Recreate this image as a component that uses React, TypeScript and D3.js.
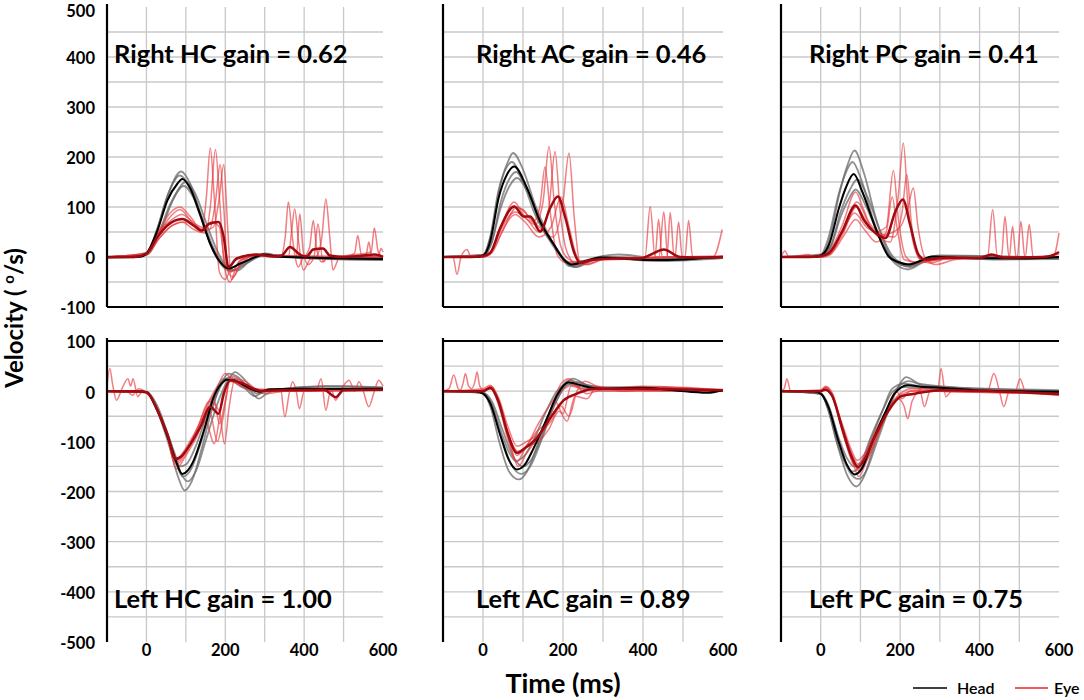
import React from "react";
import * as d3 from "d3";

type Pt = [number, number];

// ---- Right HC ----
const rhcHeadMean: Pt[] = [[-100,0],[-40,0],[-15,1],[0,7],[28,53],[53,113],[78,146],[91,156],[112,136],[137,83],[162,26],[187,-10],[208,-23],[238,-13],[280,1],[297,5],[330,1],[400,-1],[500,-3],[600,-4]];
const rhcHeads: Pt[][] = [
  [[-100,-2],[-20,0],[0,6],[30,62],[55,125],[88,171],[112,145],[140,80],[165,20],[195,-20],[215,-28],[245,-15],[290,3],[320,4],[400,-2],[600,-6]],
  [[-100,0],[-20,0],[0,5],[30,45],[60,105],[95,142],[120,118],[145,70],[170,18],[200,-18],[222,-26],[255,-12],[300,6],[340,2],[450,-3],[600,-3]],
  [[-100,-1],[0,8],[28,58],[52,120],[85,163],[108,142],[132,92],[158,35],[185,-8],[205,-22],[235,-16],[275,0],[300,7],[340,2],[500,-4],[600,-5]],
  [[-100,0],[0,4],[35,50],[65,110],[100,150],[125,125],[150,72],[178,15],[205,-20],[230,-27],[260,-10],[300,4],[350,0],[600,-2]],
];
const rhcEyeMean: Pt[] = [[-100,0],[-30,0],[0,7],[28,40],[53,63],[91,76],[120,63],[141,53],[158,66],[183,70],[196,40],[208,-20],[229,-3],[280,5],[322,1],[343,3],[364,20],[389,5],[406,1],[423,15],[448,17],[465,3],[500,0],[540,2],[580,5],[600,0]];
const rhcEyes: Pt[][] = [
  [[-100,0],[0,6],[30,45],[60,80],[85,95],[115,70],[140,50],[152,120],[162,218],[172,120],[185,-30],[200,-45],[220,-10],[260,3],[340,0],[352,40],[360,110],[370,40],[385,-20],[400,0],[500,0],[528,8],[536,43],[545,5],[600,-5]],
  [[-100,0],[0,5],[30,35],[60,60],[90,70],[120,55],[150,48],[162,100],[175,215],[186,110],[198,-20],[212,-50],[230,-15],[270,5],[360,0],[368,50],[376,96],[386,30],[398,-26],[415,-5],[430,0],[445,40],[455,116],[465,40],[473,-26],[490,0],[570,10],[578,58],[588,10],[600,0]],
  [[-100,0],[0,8],[30,50],[60,72],[90,85],[125,65],[160,55],[175,110],[187,185],[196,100],[207,-30],[220,-40],[245,-5],[300,5],[380,0],[389,86],[398,10],[410,-15],[425,0],[435,66],[448,-10],[460,0],[556,0],[564,30],[572,0],[600,2]],
  [[-100,0],[0,5],[35,40],[70,65],[100,70],[140,52],[170,60],[185,120],[196,185],[206,60],[215,-45],[235,-20],[270,4],[400,2],[414,20],[423,73],[432,15],[445,-10],[460,0],[588,2],[595,17],[600,10]],
  [[-100,0],[0,7],[30,50],[60,88],[85,100],[110,82],[140,55],[165,70],[185,60],[200,-15],[215,-30],[240,-5],[300,3],[600,0]],
];

// ---- Right AC ----
const racHeadMean: Pt[] = [[-100,0],[-20,0],[0,3],[18,31],[39,118],[60,165],[78,181],[110,138],[143,71],[177,25],[202,-5],[222,-15],[250,-10],[293,-1],[350,-3],[420,-6],[500,-5],[550,-2],[600,0]];
const racHeads: Pt[][] = [
  [[-100,0],[0,4],[20,45],[42,140],[62,190],[75,208],[100,175],[130,105],[160,50],[190,8],[212,-15],[232,-20],[270,-8],[300,0],[400,-5],[600,-2]],
  [[-100,0],[0,2],[20,25],[45,100],[65,140],[85,158],[115,125],[145,68],[175,28],[200,-2],[220,-12],[250,-8],[300,2],[340,5],[450,-4],[600,0]],
  [[-100,0],[0,4],[18,40],[38,130],[58,178],[72,190],[100,150],[130,85],[165,35],[195,0],[215,-18],[240,-15],[290,-2],[450,-8],[600,-2]],
  [[-100,0],[0,2],[22,30],[45,112],[65,155],[82,170],[112,132],[145,62],[180,22],[208,-10],[230,-20],[260,-10],[310,0],[480,-5],[600,1]],
];
const racEyeMean: Pt[] = [[-100,0],[-30,0],[0,2],[18,8],[43,58],[78,101],[102,81],[118,81],[143,51],[168,98],[187,121],[206,78],[227,11],[243,-12],[270,-6],[330,-3],[393,-3],[420,5],[452,15],[493,0],[550,-1],[600,0]];
const racEyes: Pt[][] = [
  [[-100,0],[-75,0],[-65,-35],[-55,0],[-40,15],[-30,0],[0,0],[20,10],[45,60],[78,110],[100,85],[130,65],[150,110],[165,221],[178,110],[195,20],[215,-5],[240,-12],[300,-3],[405,0],[418,101],[430,0],[600,0]],
  [[-100,0],[0,2],[20,12],[45,55],[80,90],[110,75],[140,50],[165,100],[180,211],[193,90],[210,10],[235,-15],[270,-5],[430,0],[439,75],[448,0],[460,0],[468,89],[478,0],[600,0]],
  [[-100,0],[0,0],[22,8],[48,50],[85,100],[110,85],[140,60],[175,40],[200,110],[215,208],[228,80],[242,-10],[260,-15],[300,-5],[440,0],[452,90],[462,0],[505,0],[514,73],[524,0],[575,0],[598,55]],
  [[-100,0],[0,3],[20,10],[45,62],[75,100],[100,95],[125,70],[142,100],[155,180],[168,90],[185,5],[205,-10],[240,-8],[480,0],[489,70],[498,0],[600,0]],
  [[-100,0],[0,0],[25,15],[50,55],[80,85],[105,70],[140,40],[170,60],[195,120],[215,60],[235,0],[255,-15],[300,-5],[600,2]],
];

// ---- Right PC ----
const rpcHeadMean: Pt[] = [[-100,0],[-20,0],[0,3],[21,25],[46,98],[63,138],[83,166],[105,130],[138,58],[171,1],[195,-10],[221,-15],[250,-8],[279,1],[350,-2],[500,-3],[600,0]];
const rpcHeads: Pt[][] = [
  [[-100,0],[0,3],[22,35],[48,130],[68,185],[85,213],[108,170],[140,75],[170,10],[200,-15],[225,-20],[260,-8],[290,2],[400,-3],[600,-2]],
  [[-100,0],[0,2],[25,20],[50,80],[70,115],[88,135],[112,105],[142,50],[172,5],[200,-15],[225,-18],[260,-5],[300,3],[600,-3]],
  [[-100,0],[0,5],[20,40],[45,125],[65,172],[80,190],[102,155],[132,75],[165,10],[195,-18],[220,-25],[255,-12],[300,0],[450,-5],[600,-4]],
  [[-100,0],[0,2],[25,22],[50,90],[72,132],[92,155],[118,120],[148,55],[178,5],[205,-12],[235,-15],[270,-3],[320,2],[600,-1]],
];
const rpcEyeMean: Pt[] = [[-100,0],[-30,0],[0,2],[21,8],[54,51],[88,103],[108,75],[138,48],[163,38],[188,91],[207,115],[225,65],[246,5],[263,-5],[320,-1],[400,-2],[430,5],[460,-1],[560,0],[596,8],[600,10]];
const rpcEyes: Pt[][] = [
  [[-100,0],[-90,12],[-80,0],[-30,5],[-20,0],[0,0],[25,15],[55,65],[88,130],[108,95],[135,50],[165,60],[183,173],[195,80],[215,0],[240,-12],[300,-3],[420,0],[433,95],[445,0],[600,0]],
  [[-100,0],[0,0],[25,8],[55,45],[90,100],[115,70],[145,40],[175,30],[195,120],[208,228],[220,100],[240,10],[260,-10],[300,-5],[455,0],[464,81],[474,0],[600,0]],
  [[-100,0],[0,2],[25,12],[55,50],[85,88],[115,60],[150,45],[185,40],[205,90],[217,165],[228,70],[250,-5],[275,-12],[320,-3],[475,0],[483,61],[492,0],[585,0],[600,48]],
  [[-100,0],[0,0],[25,5],[55,55],[92,110],[120,70],[160,45],[200,60],[220,100],[233,138],[245,60],[265,-5],[290,-15],[340,-5],[495,0],[504,71],[514,0],[600,0]],
  [[-100,0],[0,0],[30,10],[60,45],[88,75],[110,55],[140,30],[165,50],[180,120],[192,60],[210,-5],[240,-10],[300,-5],[515,0],[525,65],[535,0],[600,5]],
];

// ---- Left HC ----
const lhcHeadMean: Pt[] = [[-100,0],[-20,0],[0,-2],[28,-38],[54,-91],[75,-140],[91,-165],[105,-158],[120,-138],[146,-78],[171,-11],[190,15],[204,23],[221,22],[254,9],[288,-1],[313,4],[388,5],[500,5],[600,5]];
const lhcHeads: Pt[][] = [
  [[-100,0],[0,-2],[30,-45],[58,-110],[80,-170],[97,-198],[115,-180],[140,-115],[165,-40],[190,15],[208,35],[228,30],[255,10],[285,-15],[305,-5],[350,5],[450,10],[600,8]],
  [[-100,0],[0,-1],[28,-30],[52,-80],[72,-125],[85,-150],[102,-145],[125,-110],[150,-55],[175,0],[198,25],[218,20],[250,5],[290,0],[400,3],[600,5]],
  [[-100,0],[0,-3],[30,-40],[60,-100],[85,-160],[105,-180],[125,-160],[150,-100],[180,-25],[205,20],[225,38],[250,22],[280,-5],[310,0],[400,8],[500,10],[600,6]],
  [[-100,0],[0,-2],[28,-40],[55,-95],[78,-150],[92,-170],[110,-160],[135,-110],[160,-45],[185,5],[210,28],[240,15],[275,-10],[300,0],[600,3]],
];
const lhcEyeMean: Pt[] = [[-100,0],[-30,0],[0,-2],[28,-38],[54,-88],[74,-135],[87,-131],[112,-105],[137,-71],[162,-31],[183,-45],[196,-5],[213,22],[246,15],[288,1],[346,2],[450,3],[480,-12],[500,2],[600,3]];
const lhcEyes: Pt[][] = [
  [[-100,10],[-93,45],[-85,10],[-76,-18],[-62,5],[-47,25],[-40,10],[-34,25],[-22,-11],[-10,0],[0,-2],[28,-40],[55,-95],[78,-140],[100,-120],[130,-80],[160,-40],[180,-100],[195,-50],[212,25],[240,10],[290,0],[340,5],[351,-51],[362,-5],[371,19],[380,0],[388,-35],[400,0],[600,5]],
  [[-100,0],[-50,0],[-35,-8],[-20,5],[0,-3],[25,-30],[50,-80],[72,-140],[90,-125],[118,-90],[145,-50],[170,-10],[185,-65],[200,-20],[215,30],[240,20],[270,5],[430,0],[443,25],[455,-38],[467,0],[600,3]],
  [[-100,0],[0,-2],[25,-35],[52,-85],[76,-155],[95,-135],[125,-95],[150,-60],[172,-105],[190,-30],[210,20],[235,15],[275,0],[470,0],[480,-18],[495,5],[514,22],[528,0],[539,19],[550,0],[564,-31],[578,0],[589,22],[600,10]],
  [[-100,0],[0,-1],[28,-38],[55,-90],[78,-145],[95,-130],[125,-85],[160,-20],[185,-40],[198,-105],[210,-30],[225,25],[250,20],[290,0],[600,2]],
  [[-100,0],[0,-2],[30,-42],[58,-100],[80,-135],[100,-118],[128,-75],[155,-25],[180,10],[200,35],[220,20],[260,5],[300,-5],[350,0],[600,5]],
];

// ---- Left AC ----
const lacHeadMean: Pt[] = [[-100,0],[-20,0],[0,-5],[18,-24],[43,-87],[64,-136],[85,-156],[102,-149],[127,-113],[160,-54],[185,-8],[214,18],[243,12],[293,5],[393,7],[477,2],[560,-3],[600,2]];
const lacHeads: Pt[][] = [
  [[-100,0],[0,-4],[18,-30],[42,-105],[65,-160],[90,-176],[110,-160],[135,-110],[165,-45],[190,0],[215,22],[245,15],[300,8],[400,8],[600,0]],
  [[-100,0],[0,-3],[20,-22],[45,-80],[65,-122],[82,-139],[102,-130],[128,-95],[158,-40],[185,0],[210,15],[240,10],[300,3],[450,5],[600,0]],
  [[-100,0],[0,-4],[20,-25],[45,-90],[70,-145],[95,-165],[118,-150],[145,-100],[172,-40],[200,5],[225,25],[260,12],[320,5],[500,2],[600,3]],
  [[-100,0],[0,-3],[22,-20],[48,-75],[75,-130],[100,-150],[122,-135],[150,-85],[180,-25],[210,12],[240,18],[280,5],[400,6],[600,1]],
];
const lacEyeMean: Pt[] = [[-100,0],[-30,0],[0,0],[18,7],[39,-21],[60,-80],[85,-123],[106,-113],[135,-93],[168,-54],[202,-18],[235,-5],[277,5],[393,5],[477,4],[600,2]];
const lacEyes: Pt[][] = [
  [[-100,0],[-85,5],[-73,32],[-62,5],[-57,2],[-50,15],[-44,35],[-36,10],[-28,5],[-20,20],[-15,38],[-8,10],[0,3],[20,5],[40,-30],[62,-95],[85,-140],[105,-115],[135,-80],[160,-60],[180,-20],[200,-45],[220,10],[250,5],[600,0]],
  [[-100,0],[0,5],[18,12],[40,-15],[62,-70],[85,-110],[110,-100],[140,-85],[170,-60],[195,-30],[215,-50],[235,0],[255,20],[300,5],[400,10],[600,3]],
  [[-100,0],[0,0],[20,5],[42,-30],[65,-95],[88,-150],[108,-125],[138,-90],[170,-40],[195,15],[215,25],[245,5],[300,0],[500,0],[600,0]],
  [[-100,0],[0,2],[20,10],[40,-20],[62,-80],[85,-128],[110,-110],[140,-100],[165,-75],[190,-40],[210,-60],[230,-10],[260,-15],[285,10],[350,0],[450,8],[600,2]],
  [[-100,0],[0,0],[22,8],[45,-35],[65,-90],[88,-120],[112,-105],[138,-65],[165,-30],[195,0],[225,12],[260,-5],[300,3],[600,0]],
];

// ---- Left PC ----
const lpcHeadMean: Pt[] = [[-100,0],[-20,0],[0,-5],[19,-31],[44,-98],[65,-145],[86,-166],[103,-155],[128,-105],[161,-45],[186,-5],[219,12],[253,9],[303,7],[386,2],[469,0],[600,-1]];
const lpcHeads: Pt[][] = [
  [[-100,0],[0,-5],[20,-40],[45,-115],[68,-170],[90,-190],[108,-172],[132,-115],[165,-40],[192,5],[222,20],[255,12],[310,8],[600,2]],
  [[-100,0],[0,-4],[18,-25],[44,-90],[65,-132],[84,-150],[102,-140],[126,-92],[158,-35],[182,0],[212,8],[250,6],[400,3],[600,-3]],
  [[-100,0],[0,-6],[22,-35],[48,-105],[72,-160],[95,-175],[114,-160],[140,-105],[170,-40],[196,10],[215,28],[248,15],[300,10],[500,2],[600,0]],
  [[-100,0],[0,-5],[18,-35],[40,-100],[62,-145],[80,-160],[100,-148],[125,-100],[155,-40],[180,5],[210,15],[260,8],[600,0]],
];
const lpcEyeMean: Pt[] = [[-100,0],[-30,0],[0,0],[11,3],[28,-8],[53,-71],[78,-131],[94,-151],[111,-135],[136,-91],[169,-41],[203,-10],[236,-5],[303,2],[469,-1],[600,-6]];
const lpcEyes: Pt[][] = [
  [[-100,0],[-92,5],[-85,25],[-76,0],[-30,0],[0,0],[12,8],[30,-10],[55,-80],[80,-140],[96,-170],[115,-140],[140,-95],[170,-40],[195,-15],[210,-30],[219,-55],[230,-20],[250,0],[261,-31],[275,0],[295,5],[303,45],[315,-11],[330,0],[600,-3]],
  [[-100,0],[0,2],[15,8],[32,-15],[58,-90],[82,-145],[98,-155],[118,-130],[145,-80],[175,-30],[200,-5],[230,5],[300,3],[420,0],[436,35],[450,0],[461,-31],[475,0],[600,-5]],
  [[-100,0],[0,0],[10,5],[28,-10],[52,-65],[78,-125],[94,-145],[112,-128],[138,-85],[168,-35],[190,0],[205,-15],[225,0],[350,0],[490,0],[502,25],[515,0],[600,-8]],
  [[-100,0],[0,2],[12,10],[30,-5],[55,-75],[80,-135],[98,-160],[118,-135],[145,-85],[175,-30],[205,-10],[240,-5],[260,10],[300,0],[600,-4]],
  [[-100,0],[0,0],[14,6],[30,-12],[52,-60],[76,-115],[92,-138],[110,-125],[135,-85],[165,-40],[200,-8],[245,2],[300,0],[400,-2],[600,-6]],
];

const titles = [
  ["Right HC gain = 0.62", "Right AC gain = 0.46", "Right PC gain = 0.41"],
  ["Left HC gain = 1.00", "Left AC gain = 0.89", "Left PC gain = 0.75"],
];
const xTicks = [0, 200, 400, 600];
const topYTicks = [500, 400, 300, 200, 100, 0, -100];
const bottomYTicks = [100, 0, -100, -200, -300, -400, -500];

// layout
const cols = [
  { x0: 107, x1: 383, titleX: 114 },
  { x0: 443, x1: 723, titleX: 476 },
  { x0: 781, x1: 1059, titleX: 809 },
];
const rows = [
  { yTop: 7, yBot: 307, domain: [-100, 500] as [number, number], titleY: 63, ticks: topYTicks },
  { yTop: 341, yBot: 642, domain: [-500, 100] as [number, number], titleY: 608, ticks: bottomYTicks },
];

const FONT = "Lato, 'Open Sans', 'DejaVu Sans', sans-serif";
const GRID = "#c8c8c8";
const HEAD_GREY = "#6a6a6a";
const EYE_RED = "#e8393f";
const EYE_MEAN = "#a10a0f";

interface PanelData {
  headMean: Pt[];
  heads: Pt[][];
  eyeMean: Pt[];
  eyes: Pt[][];
}

const panelData: PanelData[][] = [
  [
    { headMean: rhcHeadMean, heads: rhcHeads, eyeMean: rhcEyeMean, eyes: rhcEyes },
    { headMean: racHeadMean, heads: racHeads, eyeMean: racEyeMean, eyes: racEyes },
    { headMean: rpcHeadMean, heads: rpcHeads, eyeMean: rpcEyeMean, eyes: rpcEyes },
  ],
  [
    { headMean: lhcHeadMean, heads: lhcHeads, eyeMean: lhcEyeMean, eyes: lhcEyes },
    { headMean: lacHeadMean, heads: lacHeads, eyeMean: lacEyeMean, eyes: lacEyes },
    { headMean: lpcHeadMean, heads: lpcHeads, eyeMean: lpcEyeMean, eyes: lpcEyes },
  ],
];

function Panel({ r, c }: { r: number; c: number }) {
  const row = rows[r];
  const col = cols[c];
  const d = panelData[r][c];
  const x = d3.scaleLinear().domain([-100, 600]).range([col.x0, col.x1]);
  const y = d3.scaleLinear().domain(row.domain).range([row.yBot, row.yTop]);
  const line = d3
    .line<Pt>()
    .x((p) => x(p[0]))
    .y((p) => y(p[1]))
    .curve(d3.curveMonotoneX);

  const [lo, hi] = row.domain;
  const hGrid = d3.range(lo + 50, hi, 50);
  const vGrid = d3.range(0, 600, 100);
  const axisY = r === 0 ? y(lo) : y(hi);

  return (
    <g>
      {hGrid.map((v) => (
        <line key={"h" + v} x1={col.x0} x2={col.x1} y1={y(v)} y2={y(v)} stroke={GRID} strokeWidth={1.3} />
      ))}
      {vGrid.map((t) => (
        <line key={"v" + t} x1={x(t)} x2={x(t)} y1={y(hi)} y2={y(lo)} stroke={GRID} strokeWidth={1.3} />
      ))}
      {d.heads.map((tr, i) => (
        <path key={"hd" + i} d={line(tr) || ""} fill="none" stroke={HEAD_GREY} strokeWidth={1.8} strokeOpacity={0.75} />
      ))}
      {d.eyes.map((tr, i) => (
        <path key={"ey" + i} d={line(tr) || ""} fill="none" stroke={EYE_RED} strokeWidth={1.5} strokeOpacity={0.65} />
      ))}
      <path d={line(d.headMean) || ""} fill="none" stroke="#000" strokeWidth={2} />
      <path d={line(d.eyeMean) || ""} fill="none" stroke={EYE_MEAN} strokeWidth={2.5} />
      <line x1={col.x0} x2={col.x0} y1={row.yTop - 3} y2={row.yBot} stroke="#000" strokeWidth={2.2} />
      <line x1={col.x0} x2={col.x1} y1={axisY} y2={axisY} stroke="#000" strokeWidth={2.2} />
      <text x={col.titleX} y={row.titleY} fontFamily={FONT} fontWeight={700} fontSize={25.5} fill="#000">
        {titles[r][c]}
      </text>
      {c === 0 &&
        row.ticks.map((v) => (
          <text key={"yt" + v} x={95} y={Math.max(y(v) + 1.5, 11)} dy="0.36em" textAnchor="end" fontFamily={FONT} fontWeight={700} fontSize={16.5}>
            {v}
          </text>
        ))}
      {r === 1 &&
        xTicks.map((t) => (
          <text key={"xt" + t} x={x(t)} y={656} textAnchor="middle" fontFamily={FONT} fontWeight={700} fontSize={16.5}>
            {t}
          </text>
        ))}
    </g>
  );
}

export default function App() {
  return (
    <svg width={1084} height={700} style={{ position: "absolute", left: 0, top: 0, background: "#fff" }}>
      <rect width={1084} height={700} fill="#fff" />
      {[0, 1].map((r) => [0, 1, 2].map((c) => <Panel key={r + "-" + c} r={r} c={c} />))}
      <text transform="translate(23,318) rotate(-90)" textAnchor="middle" fontFamily={FONT} fontWeight={700} fontSize={24}>
        Velocity ( <tspan dy={-9} fontSize={15}>o</tspan>
        <tspan dy={9}>/s)</tspan>
      </text>
      <text x={563} y={693} textAnchor="middle" fontFamily={FONT} fontWeight={700} fontSize={27}>
        Time (ms)
      </text>
      <line x1={913} x2={947} y1={688} y2={688} stroke="#000" strokeWidth={1.5} />
      <text x={957} y={694} fontFamily={FONT} fontWeight={600} fontSize={16}>Head</text>
      <line x1={1015} x2={1048} y1={688} y2={688} stroke="#e8262d" strokeWidth={1.5} />
      <text x={1054} y={694} fontFamily={FONT} fontWeight={600} fontSize={16}>Eye</text>
    </svg>
  );
}
